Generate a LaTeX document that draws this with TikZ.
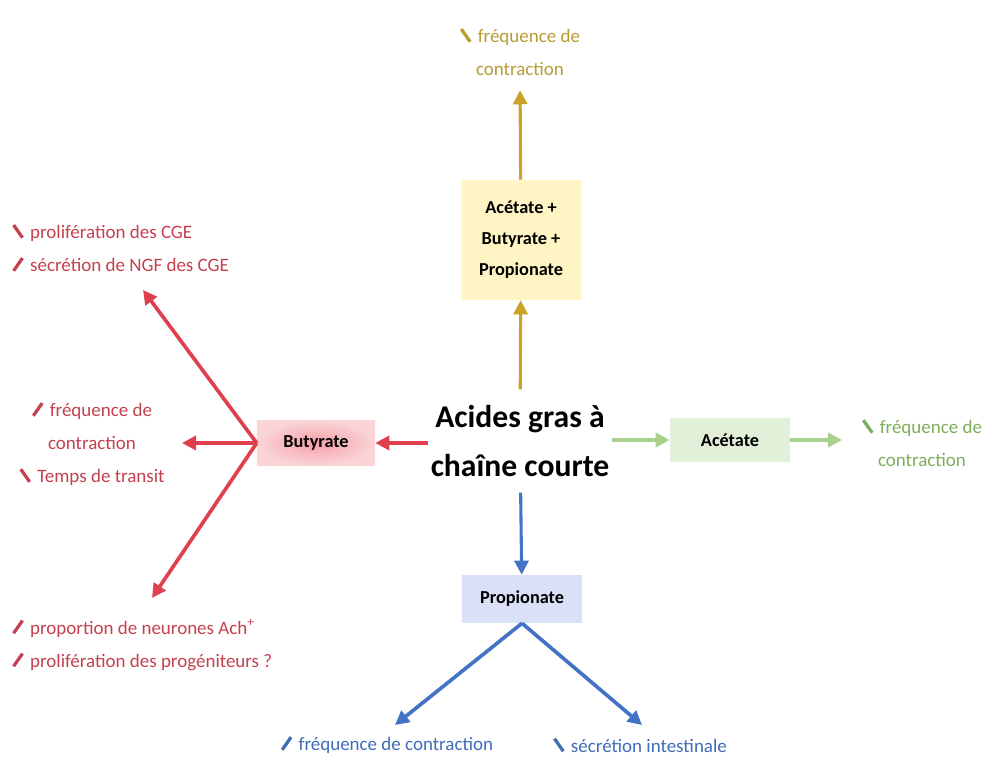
\documentclass[tikz,border=0pt]{standalone}
\usepackage{fontspec}
\setmainfont{Carlito}
\usepackage{graphicx}
\usetikzlibrary{arrows.meta}
\definecolor{rouge}{HTML}{E03F4E}
\definecolor{rougetxt}{HTML}{C4404E}
\definecolor{ocre}{HTML}{C9A227}
\definecolor{ocretxt}{HTML}{B89C32}
\definecolor{vert}{HTML}{A9D18E}
\definecolor{verttxt}{HTML}{7DAE5C}
\definecolor{bleu}{HTML}{4472C4}
\definecolor{bleutxt}{HTML}{3F6CB8}
\newcommand{\hausse}{\rotatebox{55}{\rule{11pt}{2.3pt}}\,\,}
\newcommand{\baisse}{\raisebox{9pt}{\rotatebox{-55}{\rule{11pt}{2.3pt}}}\,\,}

\begin{document}
\begin{tikzpicture}[x=0.025cm,y=-0.025cm,
	fl/.style={line width=2.6pt,-{Triangle[length=10pt,width=10pt]}},
	boite/.style={font=\fontsize{13}{22}\selectfont\bfseries,align=center,inner sep=0pt},
	txt/.style={font=\fontsize{13.5}{23.5}\selectfont,inner sep=0pt}]
	\useasboundingbox (0,0) rectangle (989,760);
	% molecule centrale
	\node[font=\fontsize{22.5}{35}\selectfont\bfseries,align=center,inner xsep=2pt,inner ysep=11pt] (agcc) at (520,441) {Acides gras à\\chaîne courte};
	% les quatre boites
	\node[boite,fill={rgb,255:red,255;green,244;blue,196},minimum width=3cm,minimum height=3cm] (melange) at (521,240) {Acétate +\\Butyrate +\\Propionate};
	\node[boite,inner color={rgb,255:red,244;green,160;blue,168},outer color={rgb,255:red,250;green,212;blue,215},minimum width=2.95cm,minimum height=1.12cm] (butyrate) at (316,443) {Butyrate};
	\node[boite,fill={rgb,255:red,226;green,240;blue,217},minimum width=3cm,minimum height=1.1cm] (acetate) at (730,440) {Acétate};
	\node[boite,fill={rgb,255:red,218;green,224;blue,246},minimum width=3cm,minimum height=1.2cm] (propionate) at (522,599) {Propionate};
	% effets
	\node[txt,text=ocretxt,align=center] (haut) at (520,52) {\baisse fréquence de\\contraction};
	\node[txt,text=rougetxt,align=left,anchor=west] (cge) at (12,248) {\baisse prolifération des CGE\\\hausse sécrétion de NGF des CGE};
	\node[txt,text=rougetxt,align=center] (transit) at (92,444) {\hausse fréquence de\\contraction\\\baisse Temps de transit};
	\node[txt,text=rougetxt,align=left,anchor=west] (ach) at (12,645) {\hausse proportion de neurones Ach\textsuperscript{+}\\\hausse prolifération des progéniteurs ?};
	\node[txt,text=verttxt,align=center] (droite) at (922,443) {\baisse fréquence de\\contraction};
	\node[txt,text=bleutxt] (bas1) at (387,745) {\hausse fréquence de contraction};
	\node[txt,text=bleutxt] (bas2) at (640,745) {\baisse sécrétion intestinale};
	% pointes libres
	\coordinate (b1) at (143,290);
	\coordinate (b2) at (182,443);
	\coordinate (b3) at (152,598);
	\coordinate (p1) at (395,725);
	\coordinate (p2) at (642,725);
	% fleches
	\draw[fl,ocre,line width=2.2pt] (agcc) -- (melange);
	\draw[fl,ocre,line width=2.2pt,shorten >=10pt] (melange) -- (haut.south);
	\draw[fl,rouge] (agcc.west |- butyrate.east) -- (butyrate.east);
	\draw[fl,rouge] (butyrate.west) -- (b1);
	\draw[fl,rouge] (butyrate.west) -- (b2);
	\draw[fl,rouge] (butyrate.west) -- (b3);
	\draw[fl,vert] (agcc.east |- acetate.west) -- (acetate.west);
	\draw[fl,vert,shorten >=14pt] (acetate.east) -- (droite.west |- acetate.east);
	\draw[fl,bleu,line width=2.2pt] (agcc) -- (propionate);
	\draw[fl,bleu] (propionate.south) -- (p1);
	\draw[fl,bleu] (propionate.south) -- (p2);
\end{tikzpicture}
\end{document}
